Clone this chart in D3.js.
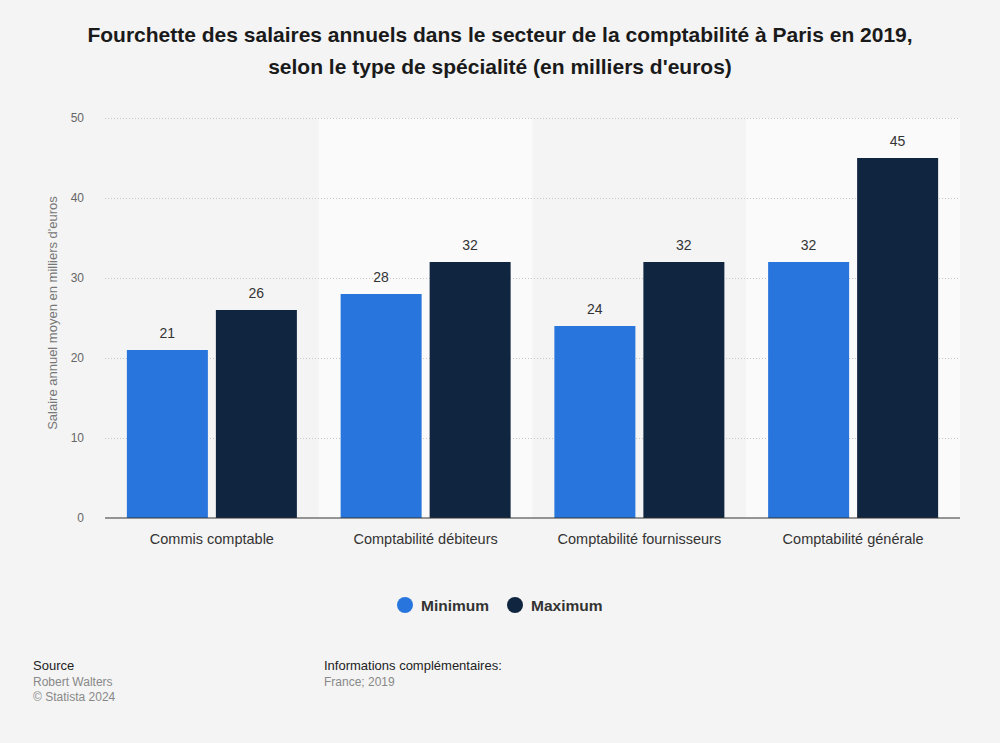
<!DOCTYPE html>
<html><head><meta charset="utf-8">
<script src="https://cdn.jsdelivr.net/npm/d3@7"></script>
<style>body{margin:0;background:#f4f4f4;font-family:"Liberation Sans",Arial,sans-serif;}</style>
</head><body>
<svg id="c" width="1000" height="743"></svg>
<script>
const categories = ["Commis comptable","Comptabilité débiteurs","Comptabilité fournisseurs","Comptabilité générale"];
const seriesNames = ["Minimum","Maximum"];
const minimumValues = [21,28,24,32];
const maximumValues = [26,32,32,45];
const yTicks = [0,10,20,30,40,50];
const colors = ["#2876dd","#10253f"];

const svg = d3.select("#c");
svg.append("rect").attr("width",1000).attr("height",743).attr("fill","#f4f4f4");

const m = {l:105, r:960, t:118, b:518};
const x = d3.scaleBand().domain(categories).range([m.l,m.r]);
const y = d3.scaleLinear().domain([0,50]).range([m.b,m.t]);
const xs = d3.scaleBand().domain(seriesNames).range([0,170]).paddingInner(8/89);
const groupOffset = (x.bandwidth()-170)/2;

// alternating backgrounds
svg.selectAll("rect.bg").data(categories.filter((d,i)=>i%2===1)).enter().append("rect")
  .attr("x",d=>x(d)).attr("y",m.t).attr("width",x.bandwidth()).attr("height",m.b-m.t)
  .attr("fill","#fafafa");

// grid
svg.selectAll("line.grid").data(yTicks.filter(d=>d>0)).enter().append("line")
  .attr("x1",m.l).attr("x2",m.r).attr("y1",d=>y(d)+0.5).attr("y2",d=>y(d)+0.5)
  .attr("stroke","#c8c8c8").attr("stroke-dasharray","1,2").attr("stroke-width",1);

// y tick labels
svg.selectAll("text.yt").data(yTicks).enter().append("text")
  .attr("x",84).attr("y",d=>y(d)+4).attr("text-anchor","end")
  .attr("font-size",12).attr("fill","#666").text(d=>d);

// y axis title
svg.append("text").attr("transform","translate(57,313) rotate(-90)")
  .attr("text-anchor","middle").attr("font-size",13).attr("fill","#777")
  .text("Salaire annuel moyen en milliers d'euros");

const data = categories.map((c,i)=>({cat:c, vals:[{s:"Minimum",v:minimumValues[i]},{s:"Maximum",v:maximumValues[i]}]}));
const g = svg.selectAll("g.cat").data(data).enter().append("g")
  .attr("transform",d=>`translate(${x(d.cat)+groupOffset},0)`);
g.selectAll("rect").data(d=>d.vals).enter().append("rect")
  .attr("x",d=>xs(d.s)).attr("width",xs.bandwidth())
  .attr("y",d=>y(d.v)).attr("height",d=>y(0)-y(d.v))
  .attr("fill",(d,i)=>colors[i]);
g.selectAll("text").data(d=>d.vals).enter().append("text")
  .attr("x",d=>xs(d.s)+xs.bandwidth()/2).attr("y",d=>y(d.v)-12)
  .attr("text-anchor","middle").attr("font-size",14).attr("fill","#333").text(d=>d.v);

// axis line
svg.append("line").attr("x1",m.l).attr("x2",m.r).attr("y1",m.b).attr("y2",m.b)
  .attr("stroke","#333").attr("stroke-width",1.2);

// category labels
svg.selectAll("text.xl").data(categories).enter().append("text")
  .attr("x",d=>x(d)+x.bandwidth()/2).attr("y",544).attr("text-anchor","middle")
  .attr("font-size",14.5).attr("fill","#333").text(d=>d);

// title
const title = ["Fourchette des salaires annuels dans le secteur de la comptabilité à Paris en 2019,","selon le type de spécialité (en milliers d'euros)"];
svg.selectAll("text.title").data(title).enter().append("text")
  .attr("x",500).attr("y",(d,i)=>42+i*32).attr("text-anchor","middle")
  .attr("font-size",21).attr("font-weight","bold").attr("fill","#1a1a1a").text(d=>d);

// legend
const legX = [405,515];
seriesNames.forEach((s,i)=>{
  svg.append("circle").attr("cx",legX[i]).attr("cy",605).attr("r",8).attr("fill",colors[i]);
  svg.append("text").attr("x",legX[i]+16).attr("y",611).attr("font-size",15.5)
    .attr("font-weight","bold").attr("fill","#333").text(s);
});

// footer
svg.append("text").attr("x",33).attr("y",670).attr("font-size",13).attr("fill","#222").text("Source");
svg.append("text").attr("x",33).attr("y",686).attr("font-size",12).attr("fill","#888").text("Robert Walters");
svg.append("text").attr("x",33).attr("y",701).attr("font-size",12).attr("fill","#888").text("© Statista 2024");
svg.append("text").attr("x",324).attr("y",670).attr("font-size",13).attr("fill","#222").text("Informations complémentaires:");
svg.append("text").attr("x",324).attr("y",686).attr("font-size",12).attr("fill","#888").text("France; 2019");
</script>
</body></html>
